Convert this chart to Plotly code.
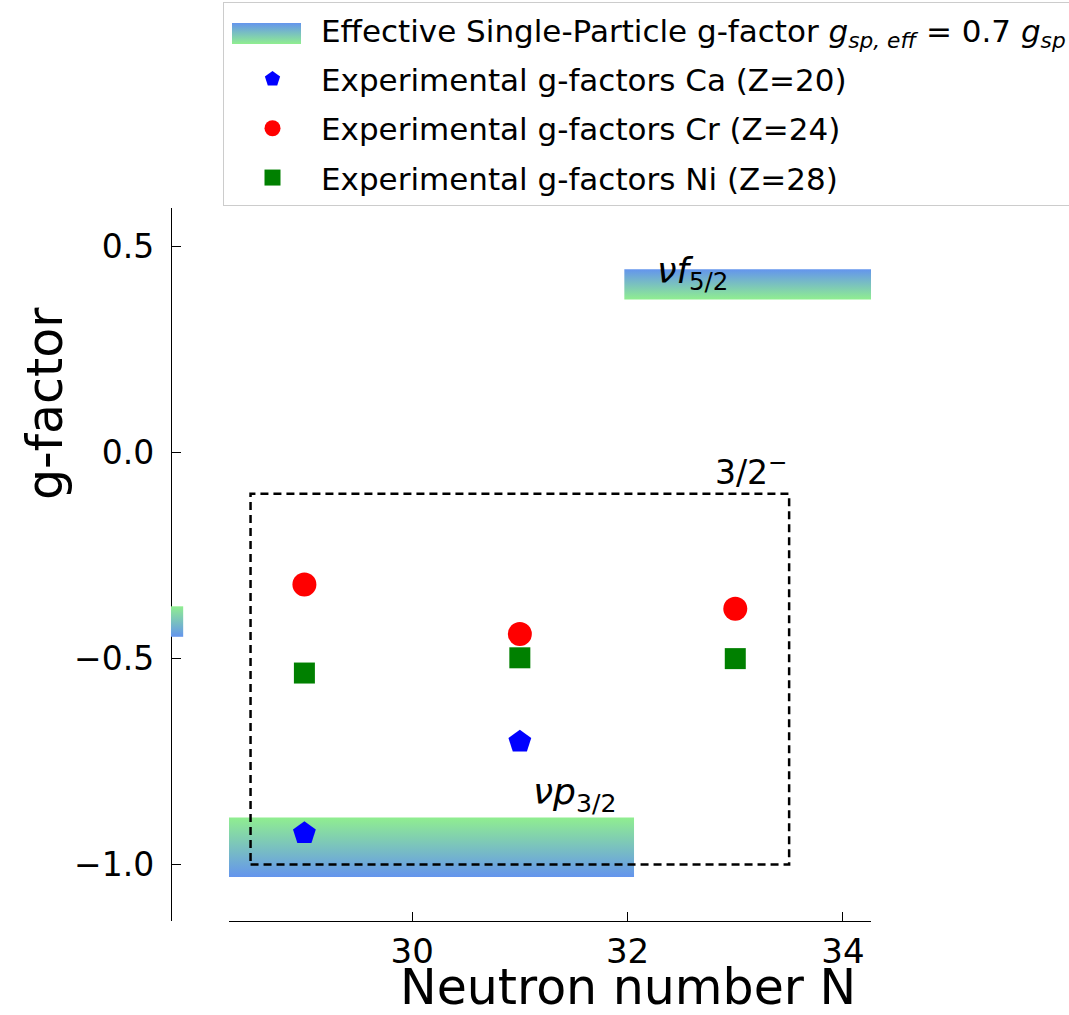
import base64
import plotly.graph_objects as go

# ---- data ----
neutron_N = [29, 31, 33]
ca_N = [29, 31]
ca_g = [-0.924, -0.702]
cr_g = [-0.320, -0.440, -0.379]
ni_g = [-0.535, -0.498, -0.500]

# effective single-particle bands: (x0, x1, y_low, y_high, color_low, color_high)
BLUE = "#6495ED"
GREEN = "#90EE90"
f52_band = dict(x=[31.97, 35.0], y=[0.372, 0.445], low=GREEN, high=BLUE)
p32_band = dict(x=[27.5, 32.06], y=[-1.030, -0.886], low=BLUE, high=GREEN)
side_band = dict(x=[0.0, 0.21], y=[-0.447, -0.373], low=BLUE, high=GREEN)

box_x = [28.5, 33.5]
box_y = [-1.0, -0.1]

x_ticks = [30, 32, 34]
y_ticks = [-1.0, -0.5, 0.0, 0.5]
x_range = [28.3, 34.26]
y_range = [-1.137, 0.594]

FONT = "DejaVu Sans"

fig = go.Figure()


def band(b, xaxis="x"):
    x0, x1 = b["x"]
    y0, y1 = b["y"]
    return go.Scatter(
        x=[x0, x1, x1, x0, x0], y=[y0, y0, y1, y1, y0],
        xaxis=xaxis, yaxis="y",
        mode="lines", fill="toself", line=dict(width=0),
        fillgradient=dict(type="vertical", colorscale=[[0, b["low"]], [1, b["high"]]]),
        showlegend=False, hoverinfo="skip",
    )


fig.add_trace(band(f52_band))
fig.add_trace(band(p32_band))
fig.add_trace(band(side_band, xaxis="x2"))

# legend entry for the bands (key patch drawn as a gradient image below)
fig.add_trace(go.Scatter(
    x=[None], y=[None], mode="lines", line=dict(color="rgba(0,0,0,0)", width=1),
    name="Effective Single-Particle g-factor <i>g</i><sub><i>sp, eff</i></sub> = 0.7 <i>g</i><sub><i>sp</i></sub>",
    legendgroup="g0", showlegend=True,
))

# dashed box
fig.add_trace(go.Scatter(
    x=[box_x[0], box_x[1], box_x[1], box_x[0], box_x[0]],
    y=[box_y[0], box_y[0], box_y[1], box_y[1], box_y[0]],
    mode="lines", line=dict(color="black", width=2.5, dash="8px,5px"),
    showlegend=False, hoverinfo="skip",
))

fig.add_trace(go.Scatter(x=ca_N, y=ca_g, mode="markers", name="Experimental g-factors Ca (Z=20)",
                         legendgroup="g1", marker=dict(symbol="pentagon", size=24, color="#0000FF")))
fig.add_trace(go.Scatter(x=neutron_N, y=cr_g, mode="markers", name="Experimental g-factors Cr (Z=24)",
                         legendgroup="g2", marker=dict(symbol="circle", size=24, color="#FF0000")))
fig.add_trace(go.Scatter(x=neutron_N, y=ni_g, mode="markers", name="Experimental g-factors Ni (Z=28)",
                         legendgroup="g3", marker=dict(symbol="square", size=21, color="#008000")))

x_dom0 = (229 - 171) / 700

svg = ("<svg xmlns='http://www.w3.org/2000/svg' width='70' height='21' preserveAspectRatio='none'>"
       "<defs><linearGradient id='g' x1='0' y1='0' x2='0' y2='1'>"
       f"<stop offset='0' stop-color='{BLUE}'/><stop offset='1' stop-color='{GREEN}'/>"
       "</linearGradient></defs><rect width='70' height='21' fill='url(#g)'/></svg>")
svg_uri = "data:image/svg+xml;base64," + base64.b64encode(svg.encode()).decode()

fig.update_layout(
    width=1069, height=1015,
    margin=dict(l=171, r=198, t=208, b=94, autoexpand=False),
    paper_bgcolor="white", plot_bgcolor="white",
    font=dict(family=FONT, color="black", size=34),
    xaxis=dict(domain=[x_dom0, 1], range=x_range, tickvals=x_ticks, ticktext=[str(v) for v in x_ticks],
               showgrid=False, zeroline=False, showline=True, linecolor="black", linewidth=1.4,
               ticks="inside", ticklen=9, tickwidth=1.4, tickcolor="black",
               tickfont=dict(size=34), anchor="y"),
    xaxis2=dict(domain=[0, x_dom0], range=[0, 1], visible=False, anchor="y"),
    yaxis=dict(range=y_range, tickvals=y_ticks, ticktext=["−1.0", "−0.5", "0.0", "0.5"],
               anchor="free", position=0,
               showgrid=False, zeroline=False, showline=True, linecolor="black", linewidth=1.4,
               ticks="inside", ticklen=9, tickwidth=1.4, tickcolor="black",
               tickfont=dict(size=33), ticklabelstandoff=10),
    legend=dict(xref="container", yref="container", x=223 / 1069, xanchor="left",
                y=1 - 2 / 1015, yanchor="top",
                bgcolor="rgba(255,255,255,0)", bordercolor="#cccccc", borderwidth=1,
                font=dict(size=31, family=FONT), itemwidth=87, tracegroupgap=6),
    showlegend=True,
    images=[dict(source=svg_uri, xref="paper", yref="paper",
                 x=(232 - 171) / 700, y=(921 - 23) / 713, sizex=69 / 700, sizey=21 / 713,
                 sizing="stretch", xanchor="left", yanchor="top", layer="above")],
)

ann = [
    dict(text="<i>νf</i><sub>5/2</sub>", x=32.6, y=0.436, font=dict(size=35)),
    dict(text="<i>νp</i><sub>3/2</sub>", x=31.51, y=-0.831, font=dict(size=36)),
    dict(text="3/2<sup>−</sup>", x=33.5, y=-0.1, xanchor="right", yanchor="bottom", font=dict(size=33)),
]
for a in ann:
    fig.add_annotation(xref="x", yref="y", showarrow=False, **a)

fig.add_annotation(text="Neutron number N", xref="paper", yref="paper",
                   x=(628 - 171) / 700, y=-(987 - 921) / 713, showarrow=False,
                   font=dict(size=49), xanchor="center", yanchor="middle")
fig.add_annotation(text="g-factor", xref="paper", yref="paper", textangle=-90,
                   x=-(171 - 45) / 700, y=(921 - 404) / 713, showarrow=False,
                   font=dict(size=49), xanchor="center", yanchor="middle")

fig.write_html("out.html")
